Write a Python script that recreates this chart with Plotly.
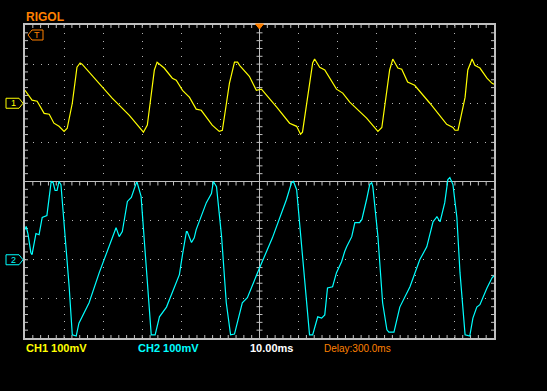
import plotly.graph_objects as go

DELAY_MS = 300.0           # horizontal delay (screen centre)
TIMEBASE_MS = 10.0         # ms per division
CH1_SCALE_MV = 100.0       # mV per division
CH2_SCALE_MV = 100.0
CH1_OFFSET_DIV = 2.0       # ground marker position (divisions from centre)
CH2_OFFSET_DIV = -2.0

ch1_t = [240.0, 241.8, 243.1, 244.9, 246.2, 247.4, 248.7, 250.0, 250.8, 252.1,
         253.3, 254.1, 254.6, 256.4, 259.0, 262.3, 266.7, 268.7, 270.3, 271.3,
         273.1, 273.8, 275.6, 277.7, 278.7, 280.3, 282.1, 283.8, 285.1, 287.9,
         289.7, 290.5, 292.3, 293.6, 294.4, 294.9, 297.4, 299.2, 300.5, 304.4,
         307.7, 309.5, 310.5, 311.0, 312.3, 313.6, 314.1, 315.4, 316.7, 318.7,
         319.7, 321.3, 323.1, 327.4, 329.0, 330.3, 331.3, 332.6, 333.3, 334.1,
         335.4, 336.4, 337.9, 339.7, 343.6, 347.9, 349.5, 350.0, 350.8, 352.6,
         353.3, 354.4, 355.1, 356.4, 358.2, 359.5, 360.0]
ch1_mv = [33, 8, 5, -26, -28, -51, -59, -72, -64, 0,
          92, 103, 100, 79, 51, 13, -31, -56, -74, -56,
          85, 105, 90, 64, 59, 33, 15, -15, -18, -56,
          -72, -69, 51, 105, 105, 97, 69, 33, 36, -10,
          -51, -59, -79, -74, 15, 103, 113, 92, 85, 54,
          36, 26, 3, -38, -56, -72, -62, 26, 85, 113,
          90, 87, 54, 46, 0, -54, -62, -69, -69, 15,
          85, 113, 97, 90, 64, 51, 49]

ch2_t = [240.0, 240.3, 240.8, 241.5, 241.8, 242.3, 242.8, 243.6, 244.4, 245.6,
         246.2, 246.7, 247.2, 247.7, 248.2, 248.7, 249.2, 250.0, 251.3, 252.1,
         253.1, 253.8, 256.4, 259.0, 261.5, 263.3, 264.1, 264.9, 266.2, 267.2,
         268.5, 268.7, 269.7, 271.0, 272.3, 273.3, 274.4, 276.2, 279.5, 280.3,
         281.3, 281.5, 282.6, 283.3, 283.8, 286.4, 287.7, 288.2, 289.0, 290.3,
         291.5, 292.6, 293.6, 295.6, 296.9, 300.0, 303.3, 306.9, 308.2, 308.7,
         309.5, 310.8, 312.1, 312.8, 313.6, 314.9, 315.9, 316.7, 317.4, 318.7,
         319.7, 321.0, 321.8, 322.3, 323.6, 324.4, 325.6, 326.2, 327.4, 328.2,
         328.7, 329.0, 330.3, 331.5, 332.6, 333.1, 334.4, 335.9, 338.5, 341.0,
         342.8, 344.4, 345.4, 346.2, 347.4, 348.2, 348.7, 349.5, 350.5, 351.3,
         352.6, 353.8, 354.6, 355.6, 356.4, 358.2, 359.5, 360.0]
ch2_mv = [77, 85, 64, 18, 13, 46, 67, 64, 108, 113,
          162, 200, 197, 177, 177, 200, 192, 95, -69, -192,
          -195, -162, -110, -33, 31, 82, 59, 72, 149, 159,
          197, 197, 162, -26, -192, -192, -146, -121, -38, 13,
          72, 72, 44, 56, 77, 146, 169, 200, 187, 59,
          -110, -192, -190, -110, -97, -21, 56, 154, 197, 200,
          179, 33, -110, -192, -192, -146, -149, -141, -72, -69,
          -33, -5, 21, 33, 59, 95, 95, 103, 154, 192,
          197, 187, 59, -110, -179, -185, -185, -121, -69, 0,
          33, 97, 110, 97, 146, 205, 210, 192, 108, -33,
          -192, -195, -149, -121, -115, -72, -46, -41]

CH1_LABEL = "CH1 100mV"
CH2_LABEL = "CH2 100mV"
TIMEBASE_LABEL = "10.00ms"
DELAY_LABEL = "Delay:300.0ms"
BRAND = "RIGOL"

# ---------------- styling ----------------
W, H = 547, 391
ML, MR, MT, MB = 25, 53, 25, 53
PW, PH = W - ML - MR, H - MT - MB
YEL, CYAN, ORANGE, GRAY = "#ffff00", "#00ffff", "#ff8000", "#c0c0c0"
FONT = "Liberation Sans, Arial, sans-serif"

XDIV, YDIV = 12, 8
xr = [-XDIV / 2 * TIMEBASE_MS, XDIV / 2 * TIMEBASE_MS]
yr = [-YDIV / 2, YDIV / 2]
px_x = (xr[1] - xr[0]) / PW   # data units per pixel
px_y = (yr[1] - yr[0]) / PH

x1 = [t - DELAY_MS for t in ch1_t]
y1 = [CH1_OFFSET_DIV + v / CH1_SCALE_MV for v in ch1_mv]
x2 = [t - DELAY_MS for t in ch2_t]
y2 = [CH2_OFFSET_DIV + v / CH2_SCALE_MV for v in ch2_mv]

# graticule tick marks (every 1/5 division)
tx, ty = [], []
sub_x = TIMEBASE_MS / 5
sub_y = 0.2
nx = int(XDIV * 5)
ny = int(YDIV * 5)
for i in range(1, nx):
    x = xr[0] + i * sub_x
    for (ya, yb) in [(yr[1], yr[1] - 3 * px_y), (yr[0], yr[0] + 3 * px_y), (0, -4 * px_y)]:
        tx += [x, x, None]
        ty += [ya, yb, None]
for j in range(1, ny):
    y = yr[0] + j * sub_y
    for (xa, xb) in [(xr[0], xr[0] + 3 * px_x), (xr[1], xr[1] - 3 * px_x), (-3 * px_x, 3 * px_x)]:
        tx += [xa, xb, None]
        ty += [y, y, None]

fig = go.Figure()
fig.add_trace(go.Scatter(x=tx, y=ty, mode="lines", line=dict(color=GRAY, width=1),
                         hoverinfo="skip", showlegend=False))
fig.add_trace(go.Scatter(x=x1, y=y1, mode="lines", line=dict(color=YEL, width=1.2),
                         name="CH1", showlegend=False))
fig.add_trace(go.Scatter(x=x2, y=y2, mode="lines", line=dict(color=CYAN, width=1.2),
                         name="CH2", showlegend=False))

axis_common = dict(showticklabels=False, ticks="", showline=True, mirror=True,
                   linecolor=GRAY, linewidth=2, gridcolor="#b4b4b4", gridwidth=1,
                   griddash="1px,6.8px", zeroline=True, zerolinecolor=GRAY,
                   zerolinewidth=1, fixedrange=True)
fig.update_xaxes(range=xr, dtick=TIMEBASE_MS, tick0=0, **axis_common)
fig.update_yaxes(range=yr, dtick=1, tick0=0, **axis_common)

shapes = [
    # channel 1 ground marker
    dict(type="path", xref="paper", yref="y", xsizemode="pixel", ysizemode="pixel",
         xanchor=0, yanchor=CH1_OFFSET_DIV,
         path="M-19,5 L-6,5 L-2,0 L-6,-5 L-19,-5 Z",
         line=dict(color=YEL, width=1), fillcolor="black"),
    # channel 2 ground marker
    dict(type="path", xref="paper", yref="y", xsizemode="pixel", ysizemode="pixel",
         xanchor=0, yanchor=CH2_OFFSET_DIV,
         path="M-19,5 L-6,5 L-2,0 L-6,-5 L-19,-5 Z",
         line=dict(color=CYAN, width=1), fillcolor="black"),
    # trigger level marker
    dict(type="path", xref="paper", yref="paper", xsizemode="pixel", ysizemode="pixel",
         xanchor=0, yanchor=1,
         path="M3,-10 L7,-5 L18,-5 L18,-15 L7,-15 Z",
         line=dict(color=ORANGE, width=1), fillcolor="black"),
    # trigger position marker
    dict(type="path", xref="x", yref="paper", xsizemode="pixel", ysizemode="pixel",
         xanchor=0, yanchor=1,
         path="M-4,1 L4,1 L0,-4 Z",
         line=dict(color=ORANGE, width=1), fillcolor=ORANGE),
]

ann = [
    dict(text="<b>%s</b>" % BRAND, xref="paper", yref="paper", x=0, y=1,
         xanchor="left", yanchor="middle", xshift=-1, yshift=8,
         font=dict(color=ORANGE, size=12, family=FONT)),
    dict(text="1", xref="paper", yref="y", x=0, y=CH1_OFFSET_DIV, xanchor="center",
         yanchor="middle", xshift=-12, showarrow=False,
         font=dict(color=YEL, size=9, family=FONT)),
    dict(text="2", xref="paper", yref="y", x=0, y=CH2_OFFSET_DIV, xanchor="center",
         yanchor="middle", xshift=-12, showarrow=False,
         font=dict(color=CYAN, size=9, family=FONT)),
    dict(text="T", xref="paper", yref="paper", x=0, y=1, xanchor="center",
         yanchor="middle", xshift=12, yshift=-10,
         font=dict(color=ORANGE, size=9, family=FONT)),
    dict(text="<b>%s</b>" % CH1_LABEL, xref="paper", yref="paper", x=0, y=0,
         xanchor="left", yanchor="middle", xshift=-1, yshift=-10,
         font=dict(color=YEL, size=11, family=FONT)),
    dict(text="<b>%s</b>" % CH2_LABEL, xref="paper", yref="paper", x=0, y=0,
         xanchor="left", yanchor="middle", xshift=111, yshift=-10,
         font=dict(color=CYAN, size=11, family=FONT)),
    dict(text="<b>%s</b>" % TIMEBASE_LABEL, xref="paper", yref="paper", x=0, y=0,
         xanchor="left", yanchor="middle", xshift=223, yshift=-10,
         font=dict(color="#ffffff", size=11, family=FONT)),
    dict(text=DELAY_LABEL, xref="paper", yref="paper", x=0, y=0,
         xanchor="left", yanchor="middle", xshift=297, yshift=-10,
         font=dict(color=ORANGE, size=10, family=FONT)),
]
for a in ann:
    a.setdefault("showarrow", False)

fig.update_layout(width=W, height=H, margin=dict(l=ML, r=MR, t=MT, b=MB),
                  paper_bgcolor="black", plot_bgcolor="black",
                  shapes=shapes, annotations=ann, showlegend=False)

fig.write_html("out.html", config={"displayModeBar": False},
               post_script="document.body.style.margin='0';"
                           "document.body.style.background='black';"
                           "document.body.style.overflow='hidden';")
